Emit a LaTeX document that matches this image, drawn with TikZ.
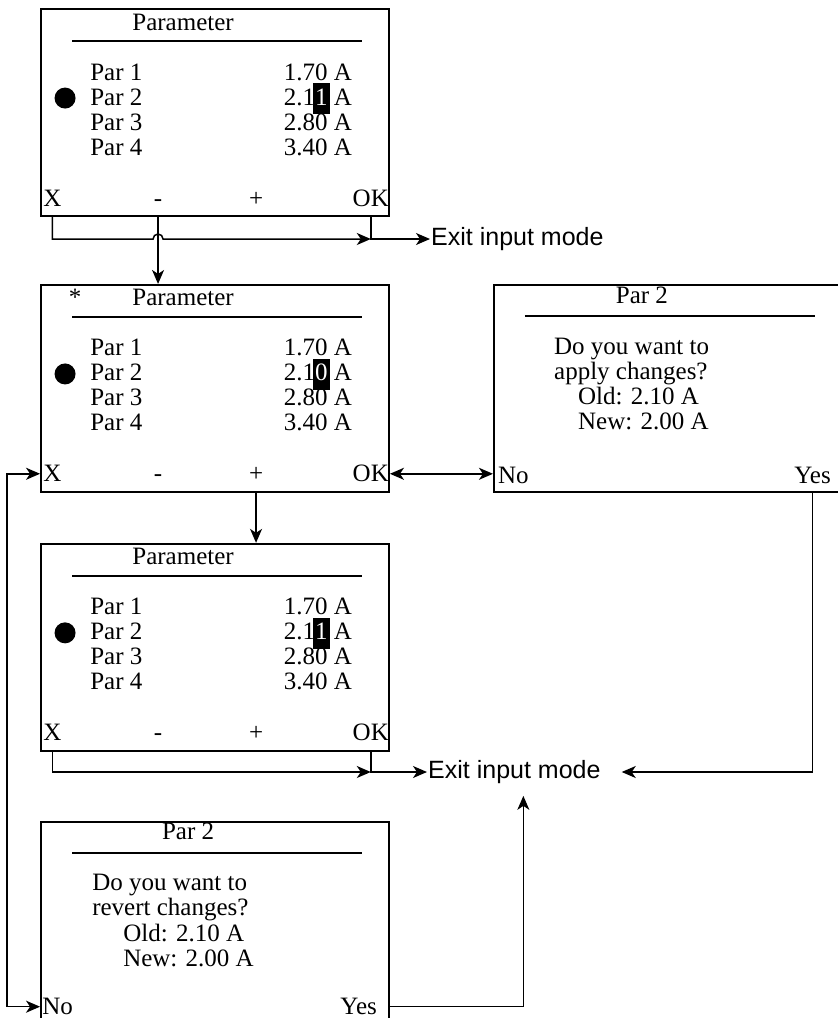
\documentclass[tikz,border=0pt]{standalone}
\usepackage{fontspec}
\setmainfont{Liberation Serif}
\newfontfamily\exitfont{Liberation Sans}
\usetikzlibrary{arrows.meta,positioning,calc}
\newcommand{\seldigit}[1]{{\setlength{\fboxsep}{0pt}\kern-2pt\colorbox{black}{\kern2pt\textcolor{white}{\rule[-9pt]{0pt}{31pt}#1}\kern2pt}\kern-2pt}}
\tikzset{
  screen/.style={draw, line width=1.9pt, minimum width=348pt, minimum height=207pt, inner sep=0pt},
  lcd/.style={font=\fontsize{25}{25}\selectfont, inner sep=0pt},
  txt/.style={lcd, anchor=base west},
  val/.style={lcd, anchor=base east},
  ctr/.style={lcd, anchor=base},
  sep/.style={line width=1.5pt},
  exit/.style={font=\exitfont\fontsize{25}{25}\selectfont, inner xsep=1pt, inner ysep=12pt},
  line/.style={-{Stealth[length=14pt,width=12pt,inset=4pt]}, line width=1.5pt},
  dline/.style={{Stealth[length=14pt,width=12pt,inset=4pt]}-{Stealth[length=14pt,width=12pt,inset=4pt]}, line width=1.5pt}
}

\begin{document}
\begin{tikzpicture}[x=1pt, y=-1pt]
  \clip (0,0) rectangle (838,1018);
  \node[screen] (scrA) at (215,112.5) {};
  \node[screen, below=67pt of scrA] (scrB) {};
  \node[screen, below=50pt of scrB] (scrD) {};
  \node[screen, below=69pt of scrD] (scrE) {};
  \node[screen, right=103pt of scrB] (scrC) {};

  % parameter screens
  \foreach \sc/\dg in {A/1, B/0, D/1} {
    \begin{scope}[shift={(scr\sc.north west)}]
      \node[ctr] (\sc-title) at (143,22) {Parameter};
      \draw[sep] (32,33) -- (322,33);
      \foreach \i/\v in {1/1.70 A, 2/2.1\seldigit{\dg} A, 3/2.80 A, 4/3.40 A} {
        \node[txt] (\sc-par\i) at (50,47+25*\i) {Par \i};
        \node[val] (\sc-val\i) at (312,47+25*\i) {\v};
      }
      \node[circle, fill=black, minimum size=21pt, inner sep=0pt] (\sc-dot) at (25,90) {};
      \node[txt] (\sc-x) at (3,198) {X};
      \node[ctr] (\sc-minus) at (118,198) {-};
      \node[ctr] (\sc-plus) at (216,198) {+};
      \node[val] (\sc-ok) at (349,198) {OK};
    \end{scope}
  }
  \node[ctr] (B-star) at ($(scrB.north west)+(35,22)$) {*};

  % confirm dialogs
  \begin{scope}[shift={(scrC.north west)}]
    \node[ctr] (C-title) at (149,20) {Par 2};
    \draw[sep] (32,32) -- (322,32);
    \node[txt] (C-q1) at (61,71) {Do you want to};
    \node[txt] (C-q2) at (61,96) {apply changes?};
    \node[txt] (C-old) at (85,121) {Old: 2.10 A};
    \node[txt] (C-new) at (85,146) {New: 2.00 A};
    \node[txt] (C-no) at (5,200) {No};
    \node[val] (C-yes) at (338,200) {Yes};
  \end{scope}
  \begin{scope}[shift={(scrE.north west)}]
    \node[ctr] (E-title) at (148,19) {Par 2};
    \draw[sep] (32,32) -- (322,32);
    \node[txt] (E-q1) at (52,70) {Do you want to};
    \node[txt] (E-q2) at (52,95) {revert changes?};
    \node[txt] (E-old) at (83,121) {Old: 2.10 A};
    \node[txt] (E-new) at (83,146) {New: 2.00 A};
    \node[txt] (E-no) at (2,194) {No};
    \node[val] (E-yes) at (337,194) {Yes};
  \end{scope}

  \node[exit, anchor=west] (exitA) at (430,239) {Exit input mode};
  \node[exit, anchor=west] (exitB) at (427,772) {Exit input mode};

  \draw[line] (A-ok |- scrA.south) |- (exitA.west);
  \draw[line] (A-x |- scrA.south) |- ($(A-minus |- exitA.west)+(-5pt,0)$)
    arc[start angle=180, end angle=0, radius=5pt] -- (A-ok |- exitA.west);
  \draw[line] (A-minus |- scrA.south) -- (A-minus |- scrB.north);
  \draw[dline] (scrB.east |- B-ok) -- (scrC.west |- B-ok);
  \draw[dline] (scrB.west |- B-x) -- ++(-33pt,0) |- (scrE.west |- E-no);
  \draw[line] (B-plus |- scrB.south) -- (B-plus |- scrD.north);
  \draw[line] (D-x |- scrD.south) |- (D-ok |- exitB.west);
  \draw[line] (D-ok |- scrD.south) |- (exitB.west);
  \draw[line] (C-yes |- scrC.south) |- ($(exitB.east)+(20pt,0)$);
  \draw[line] (scrE.east |- E-yes) -| ($(exitB.south)+(9pt,0)$);
\end{tikzpicture}
\end{document}
